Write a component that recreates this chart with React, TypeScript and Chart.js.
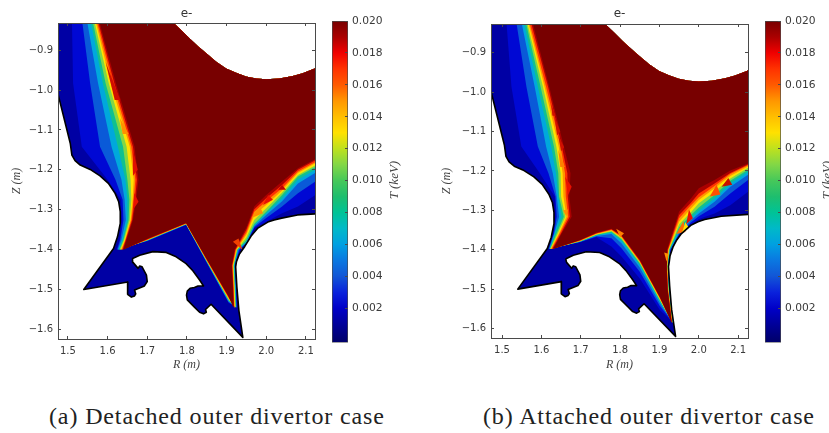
import React, { useEffect, useRef } from "react";
import { Chart, registerables } from "chart.js";

Chart.register(...registerables);

const TITLE = "e-";
const CAPTION_A = "(a) Detached outer divertor case";
const CAPTION_B = "(b) Attached outer divertor case";
const R_TICKS = [1.5, 1.6, 1.7, 1.8, 1.9, 2.0, 2.1];
const Z_TICKS = [-0.9, -1.0, -1.1, -1.2, -1.3, -1.4, -1.5, -1.6];
const CB_TICKS = [0.002, 0.004, 0.006, 0.008, 0.01, 0.012, 0.014, 0.016, 0.018, 0.02];

// Colour bar stops (keV -> colour)
const CB_VALUES = [0, 0.001, 0.002, 0.003, 0.004, 0.005, 0.006, 0.007, 0.008, 0.009, 0.01, 0.011, 0.012, 0.013, 0.014, 0.015, 0.016, 0.017, 0.018, 0.019, 0.02];
const CB_COLORS = ["#00006e", "#00009a", "#0000c8", "#0a22dc", "#1256d6", "#0a78e1", "#00a0e1", "#00b9c8", "#00c396", "#1ebe6e", "#46c85a", "#82d746", "#bee11e", "#ffe100", "#ffbe00", "#ff9600", "#ff5a00", "#ff3200", "#f00000", "#aa0000", "#780000"];

// Painted from the wall inward: base region, then T above each level, last the saturated core
const BASE_COLOR = "#0000a4";
const LEVEL_COLORS = ["#0008d4", "#0a5ad8", "#00a8dc", "#10c090", "#82d746", "#ffe100", "#ff9600", "#ff3200", "#aa0000", "#780000"];

// Wall shared by both panels (R, Z in metres), left side to the divertor bottom
const WALL_R = [1.47, 1.506, 1.51, 1.518, 1.531, 1.556, 1.581, 1.602, 1.619, 1.628, 1.632, 1.632, 1.625, 1.615, 1.54, 1.651, 1.65, 1.651, 1.66, 1.668, 1.671, 1.668, 1.693, 1.7, 1.698, 1.687, 1.681, 1.677, 1.664, 1.662, 1.664, 1.681, 1.714, 1.748, 1.773, 1.798, 1.815, 1.832, 1.842, 1.828, 1.819, 1.808, 1.801, 1.799, 1.801, 1.819, 1.832, 1.842, 1.849, 1.847, 1.861, 1.941, 1.931, 1.926, 1.923];
const WALL_Z = [-0.99, -1.134, -1.163, -1.177, -1.188, -1.199, -1.215, -1.234, -1.259, -1.28, -1.305, -1.334, -1.368, -1.397, -1.5, -1.481, -1.499, -1.512, -1.519, -1.516, -1.511, -1.501, -1.491, -1.48, -1.464, -1.443, -1.441, -1.447, -1.432, -1.424, -1.422, -1.414, -1.405, -1.407, -1.418, -1.435, -1.453, -1.476, -1.491, -1.491, -1.495, -1.497, -1.504, -1.514, -1.526, -1.544, -1.557, -1.561, -1.557, -1.55, -1.537, -1.62, -1.552, -1.493, -1.443];
const TAIL_A_R = [1.925, 1.932, 1.946, 1.962, 1.979, 2.004, 2.02, 2.039, 2.079, 2.13];
const TAIL_A_Z = [-1.43, -1.412, -1.392, -1.366, -1.346, -1.331, -1.326, -1.321, -1.313, -1.31];
const TAIL_B_R = [1.925, 1.927, 1.935, 1.944, 1.956, 1.981, 1.998, 2.015, 2.057, 2.13];
const TAIL_B_Z = [-1.43, -1.415, -1.392, -1.375, -1.359, -1.337, -1.329, -1.323, -1.315, -1.31];
const DOME_R = [2.13, 2.122, 2.092, 2.067, 2.033, 2.0, 1.975, 1.949, 1.924, 1.899, 1.874, 1.849, 1.828, 1.807, 1.786, 1.766, 1.755];
const DOME_Z = [-0.942, -0.946, -0.958, -0.965, -0.971, -0.973, -0.971, -0.966, -0.957, -0.946, -0.929, -0.908, -0.89, -0.871, -0.85, -0.831, -0.82];

// Panel (a): each row is one position, each column one level 0.002 ... 0.018, then the core edge
const A_LEFT_Z = [-0.82, -0.983, -1.142, -1.225, -1.275, -1.326, -1.376, -1.4];
const A_LEFT_R = [
  [1.51, 1.535, 1.547, 1.556, 1.561, 1.565, 1.568, 1.571, 1.574, 1.577],
  [1.513, 1.556, 1.576, 1.588, 1.595, 1.603, 1.608, 1.613, 1.617, 1.621],
  [1.535, 1.581, 1.61, 1.626, 1.639, 1.648, 1.656, 1.66, 1.664, 1.668],
  [1.6, 1.62, 1.635, 1.645, 1.65, 1.658, 1.666, 1.67, 1.674, 1.678],
  [1.634, 1.638, 1.643, 1.65, 1.655, 1.66, 1.663, 1.666, 1.669, 1.672],
  [1.636, 1.64, 1.646, 1.65, 1.653, 1.656, 1.658, 1.66, 1.662, 1.664],
  [1.63, 1.632, 1.635, 1.638, 1.64, 1.642, 1.644, 1.645, 1.646, 1.648],
  [1.622, 1.624, 1.626, 1.628, 1.63, 1.632, 1.634, 1.636, 1.638, 1.64],
];
const A_LOWER_R = [1.7, 1.798, 1.85, 1.905];
const A_LOWER_Z = [
  [-1.379, -1.378, -1.3775, -1.377, -1.3765, -1.376, -1.3755, -1.375, -1.374, -1.373],
  [-1.338, -1.3375, -1.337, -1.3365, -1.336, -1.3355, -1.335, -1.3345, -1.334, -1.333],
  [-1.433, -1.432, -1.431, -1.43, -1.429, -1.428, -1.427, -1.426, -1.425, -1.4235],
  [-1.534, -1.532, -1.53, -1.528, -1.526, -1.524, -1.522, -1.52, -1.518, -1.516],
];
const A_TIP_Z = [-1.545, -1.5, -1.44, -1.4];
const A_TIP_R = [
  [1.927, 1.926, 1.925, 1.924, 1.923, 1.922, 1.921, 1.92, 1.919, 1.917],
  [1.925, 1.924, 1.923, 1.922, 1.921, 1.92, 1.919, 1.918, 1.917, 1.916],
  [1.922, 1.921, 1.92, 1.919, 1.918, 1.917, 1.916, 1.915, 1.914, 1.913],
  [1.934, 1.932, 1.93, 1.928, 1.927, 1.926, 1.925, 1.923, 1.922, 1.92],
];
const A_RIGHT_R = [1.95, 1.97, 2.0, 2.04, 2.08, 2.13];
const A_RIGHT_Z = [
  [-1.386, -1.384, -1.382, -1.38, -1.376, -1.369, -1.363, -1.357, -1.35, -1.344],
  [-1.346, -1.344, -1.341, -1.339, -1.335, -1.325, -1.313, -1.305, -1.299, -1.292],
  [-1.33, -1.321, -1.313, -1.309, -1.305, -1.296, -1.288, -1.279, -1.271, -1.263],
  [-1.309, -1.292, -1.279, -1.271, -1.263, -1.257, -1.252, -1.246, -1.238, -1.229],
  [-1.292, -1.259, -1.234, -1.225, -1.217, -1.213, -1.208, -1.204, -1.2, -1.196],
  [-1.259, -1.225, -1.204, -1.196, -1.19, -1.185, -1.18, -1.177, -1.173, -1.17],
];
// Faceted mesh cells that stick out of the contours: R1, Z1, R2, Z2, R3, Z3
const A_CELLS = [
  [1.595, -0.93, 1.632, -1.025, 1.618, -1.025],
  [1.631, -1.07, 1.653, -1.11, 1.638, -1.11],
  [1.664, -1.15, 1.676, -1.2, 1.664, -1.215],
  [1.667, -1.258, 1.678, -1.28, 1.664, -1.3],
  [1.992, -1.288, 2.005, -1.263, 2.017, -1.275],
  [2.03, -1.25, 2.04, -1.238, 2.05, -1.25],
  [1.963, -1.321, 1.984, -1.292, 1.992, -1.309],
  [1.916, -1.38, 1.93, -1.372, 1.94, -1.4],
];
const A_CELL_COLORS = ["#d01000", "#ff9000", "#e01000", "#e81000", "#e81000", "#c00000", "#ff9000", "#f04000"];

// Panel (b)
const B_LEFT_Z = [-0.82, -0.986, -1.138, -1.206, -1.265, -1.316, -1.358, -1.398];
const B_LEFT_R = [
  [1.511, 1.536, 1.549, 1.555, 1.56, 1.563, 1.566, 1.569, 1.573, 1.577],
  [1.524, 1.562, 1.583, 1.591, 1.598, 1.604, 1.608, 1.612, 1.617, 1.62],
  [1.549, 1.591, 1.612, 1.625, 1.632, 1.638, 1.644, 1.649, 1.652, 1.657],
  [1.596, 1.618, 1.629, 1.637, 1.643, 1.649, 1.654, 1.66, 1.666, 1.674],
  [1.634, 1.636, 1.639, 1.643, 1.645, 1.65, 1.656, 1.662, 1.667, 1.671],
  [1.636, 1.639, 1.645, 1.651, 1.657, 1.661, 1.664, 1.668, 1.672, 1.677],
  [1.63, 1.632, 1.633, 1.635, 1.639, 1.642, 1.645, 1.647, 1.65, 1.652],
  [1.618, 1.619, 1.62, 1.621, 1.622, 1.623, 1.624, 1.626, 1.628, 1.63],
];
const B_LOWER_R = [1.698, 1.74, 1.778, 1.804, 1.85, 1.901];
const B_LOWER_Z = [
  [-1.381, -1.3805, -1.38, -1.3795, -1.379, -1.378, -1.3775, -1.377, -1.376, -1.375],
  [-1.368, -1.3665, -1.365, -1.3635, -1.362, -1.361, -1.36, -1.359, -1.358, -1.356],
  [-1.392, -1.371, -1.36, -1.357, -1.354, -1.3525, -1.351, -1.349, -1.348, -1.347],
  [-1.418, -1.397, -1.384, -1.377, -1.374, -1.371, -1.369, -1.367, -1.365, -1.363],
  [-1.473, -1.456, -1.445, -1.439, -1.435, -1.432, -1.43, -1.429, -1.427, -1.425],
  [-1.553, -1.543, -1.536, -1.532, -1.528, -1.526, -1.524, -1.522, -1.521, -1.519],
];
const B_TIP_Z = [-1.585, -1.5, -1.44, -1.4];
const B_TIP_R = [
  [1.9355, 1.935, 1.9345, 1.934, 1.9335, 1.933, 1.9325, 1.932, 1.9315, 1.931],
  [1.925, 1.9245, 1.924, 1.9235, 1.923, 1.9225, 1.922, 1.9215, 1.921, 1.9205],
  [1.9225, 1.922, 1.9215, 1.921, 1.9205, 1.92, 1.9195, 1.919, 1.9185, 1.918],
  [1.929, 1.928, 1.927, 1.926, 1.925, 1.924, 1.923, 1.922, 1.921, 1.919],
];
const B_RIGHT_R = [1.95, 1.98, 2.0, 2.04, 2.08, 2.13];
const B_RIGHT_Z = [
  [-1.365, -1.36, -1.357, -1.35, -1.343, -1.335, -1.329, -1.32, -1.312, -1.303],
  [-1.337, -1.331, -1.325, -1.32, -1.312, -1.305, -1.295, -1.287, -1.281, -1.27],
  [-1.322, -1.315, -1.308, -1.301, -1.293, -1.282, -1.274, -1.267, -1.257, -1.244],
  [-1.308, -1.291, -1.278, -1.27, -1.261, -1.253, -1.244, -1.238, -1.232, -1.223],
  [-1.287, -1.257, -1.24, -1.232, -1.225, -1.219, -1.213, -1.208, -1.205, -1.199],
  [-1.249, -1.219, -1.206, -1.199, -1.194, -1.189, -1.186, -1.183, -1.181, -1.179],
];
const B_CELLS = [
  [1.66, -1.215, 1.677, -1.24, 1.668, -1.261],
  [1.655, -1.3, 1.668, -1.298, 1.663, -1.315],
  [1.643, -1.147, 1.66, -1.19, 1.648, -1.19],
  [1.625, -1.03, 1.636, -1.06, 1.628, -1.06],
  [1.633, -1.06, 1.648, -1.1, 1.64, -1.11],
  [1.643, -1.11, 1.658, -1.14, 1.65, -1.15],
  [1.79, -1.347, 1.81, -1.358, 1.8, -1.368],
  [1.912, -1.407, 1.923, -1.41, 1.918, -1.43],
  [1.943, -1.36, 1.961, -1.327, 1.966, -1.355],
  [1.956, -1.36, 1.966, -1.33, 1.975, -1.345],
  [1.968, -1.335, 1.975, -1.298, 1.985, -1.32],
  [2.028, -1.265, 2.045, -1.235, 2.055, -1.26],
  [2.058, -1.24, 2.075, -1.218, 2.085, -1.235],
];
const B_CELL_COLORS = ["#e81000", "#ff9000", "#ff8000", "#d01000", "#d01000", "#d01000", "#ff8000", "#ff9000", "#ff6a00", "#ffe100", "#e81000", "#ff5000", "#c81000"];

const PANEL_A = {
  leftZ: A_LEFT_Z, leftR: A_LEFT_R, lowerR: A_LOWER_R, lowerZ: A_LOWER_Z,
  tipZ: A_TIP_Z, tipR: A_TIP_R, rightR: A_RIGHT_R, rightZ: A_RIGHT_Z,
  tailR: TAIL_A_R, tailZ: TAIL_A_Z, cells: A_CELLS, cellColors: A_CELL_COLORS,
};
const PANEL_B = {
  leftZ: B_LEFT_Z, leftR: B_LEFT_R, lowerR: B_LOWER_R, lowerZ: B_LOWER_Z,
  tipZ: B_TIP_Z, tipR: B_TIP_R, rightR: B_RIGHT_R, rightZ: B_RIGHT_Z,
  tailR: TAIL_B_R, tailZ: TAIL_B_Z, cells: B_CELLS, cellColors: B_CELL_COLORS,
};

const pts = (rs: number[], zs: number[]) => rs.map((x, i) => ({ x, y: zs[i] }));

function buildDatasets(p: typeof PANEL_A) {
  const wall = [...pts(WALL_R, WALL_Z), ...pts(p.tailR, p.tailZ)];
  const dome = pts(DOME_R, DOME_Z);
  const fillDs = (data: any[], color: string) => ({
    data, showLine: true, fill: "shape", backgroundColor: color, borderColor: color,
    borderWidth: 0, pointRadius: 0, tension: 0,
  });
  const ds: any[] = [fillDs([{ x: 1.47, y: -0.82 }, ...wall, ...dome], BASE_COLOR)];
  LEVEL_COLORS.forEach((color, i) => {
    const data = [
      ...p.leftZ.map((z, r) => ({ x: p.leftR[r][i], y: z })),
      ...p.lowerR.map((R, r) => ({ x: R, y: p.lowerZ[r][i] })),
      ...p.tipZ.map((z, r) => ({ x: p.tipR[r][i], y: z })),
      ...p.rightR.map((R, r) => ({ x: R, y: p.rightZ[r][i] })),
      ...dome,
    ];
    ds.push(fillDs(data, color));
  });
  p.cells.forEach((c, i) => {
    ds.push(fillDs([{ x: c[0], y: c[1] }, { x: c[2], y: c[3] }, { x: c[4], y: c[5] }], p.cellColors[i]));
  });
  ds.push({
    data: wall, showLine: true, fill: false, borderColor: "#000000", borderWidth: 1.6,
    pointRadius: 0, tension: 0, borderJoinStyle: "round",
  });
  return ds.map((d, i) => ({ ...d, order: ds.length - i }));
}

const TICK_FONT = { family: "'DejaVu Sans'", size: 10 };
const TICK_COLOR = "#3a3a3a";
const FRAME = "#4a4a4a";
const fmtMinus = (v: number, dp: number) => (v < 0 ? "\u2212" : "") + Math.abs(v).toFixed(dp);

function edgeAxis(position: string, axis: "x" | "y", min: number, max: number, ticks: number[]) {
  return {
    type: "linear", position, axis, min, max,
    grid: { drawOnChartArea: false, drawTicks: true, tickLength: -3, color: FRAME, z: 1 },
    border: { display: true, color: FRAME, width: 1, z: 1 },
    ticks: { display: false },
    afterBuildTicks: (s: any) => { s.ticks = ticks.map((value) => ({ value })); },
  };
}

function panelConfig(p: typeof PANEL_A, lim: any, plotLeft: number, padRight: number, top: number, canvasH: number, plotBottom: number) {
  return {
    type: "scatter",
    data: { datasets: buildDatasets(p) },
    options: {
      animation: false, responsive: false, maintainAspectRatio: false,
      layout: { padding: { left: 0, right: padRight, top: 0, bottom: 0 } },
      plugins: { legend: { display: false }, tooltip: { enabled: false } },
      elements: { line: { tension: 0 } },
      scales: {
        x: {
          ...edgeAxis("bottom", "x", lim.xMin, lim.xMax, R_TICKS),
          ticks: { display: true, font: TICK_FONT, color: TICK_COLOR, padding: 9, maxRotation: 0, autoSkip: false, callback: (v: number) => v.toFixed(1) },
          title: { display: true, text: "R (m)", color: "#444", font: { family: "'Liberation Serif'", style: "italic", size: 12 }, padding: { top: 0, bottom: 3 } },
          afterFit: (s: any) => { s.height = canvasH - plotBottom; },
        },
        xTop: {
          ...edgeAxis("top", "x", lim.xMin, lim.xMax, R_TICKS),
          title: { display: true, text: TITLE, color: "#333", font: { family: "'DejaVu Sans'", size: 12 }, padding: { top: 7, bottom: 0 } },
          afterFit: (s: any) => { s.height = top; },
        },
        y: {
          ...edgeAxis("left", "y", lim.yMin, lim.yMax, Z_TICKS),
          ticks: { display: true, font: TICK_FONT, color: TICK_COLOR, padding: 8, autoSkip: false, callback: (v: number) => fmtMinus(v, 1) },
          title: { display: true, text: "Z (m)", color: "#444", font: { family: "'Liberation Serif'", style: "italic", size: 12 }, padding: { top: 10, bottom: 0 } },
          afterFit: (s: any) => { s.width = plotLeft; },
        },
        yRight: {
          ...edgeAxis("right", "y", lim.yMin, lim.yMax, Z_TICKS),
          afterFit: (s: any) => { s.width = 0; },
        },
      },
    },
  };
}

const CB_MIN = -0.00015;
const CB_MAX = 0.02;

function colorbarConfig(axisWidth: number) {
  return {
    type: "bar",
    data: {
      labels: [""],
      datasets: [{
        data: [[CB_MIN, CB_MAX]], barPercentage: 1, categoryPercentage: 1,
        borderColor: FRAME, borderWidth: 1, borderSkipped: false,
        backgroundColor: (ctx: any) => {
          const { chart } = ctx;
          if (!chart.chartArea) return CB_COLORS[0];
          const sy = chart.scales.y;
          const g = chart.ctx.createLinearGradient(0, sy.getPixelForValue(CB_MIN), 0, sy.getPixelForValue(CB_MAX));
          CB_VALUES.forEach((v, i) => g.addColorStop(Math.max(0, (v - CB_MIN) / (CB_MAX - CB_MIN)), CB_COLORS[i]));
          return g;
        },
      }],
    },
    options: {
      animation: false, responsive: false, maintainAspectRatio: false,
      layout: { padding: { left: 7, right: 0, top: 21, bottom: 9 } },
      plugins: { legend: { display: false }, tooltip: { enabled: false } },
      scales: {
        x: { display: false, grid: { display: false } },
        y: {
          position: "right", min: CB_MIN, max: CB_MAX,
          grid: { drawOnChartArea: false, drawTicks: true, tickLength: -3, color: FRAME, z: 1 },
          border: { display: false },
          ticks: { font: { family: "'DejaVu Sans'", size: 10.7 }, color: TICK_COLOR, padding: 7, autoSkip: false, callback: (v: number) => v.toFixed(3) },
          afterBuildTicks: (s: any) => { s.ticks = CB_TICKS.map((value) => ({ value })); },
          afterFit: (s: any) => { s.width = axisWidth; },
        },
      },
    },
  };
}

const LIM_A = { xMin: 1.475, xMax: 2.123, yMin: -1.624, yMax: -0.832 };
const LIM_B = { xMin: 1.472, xMax: 2.125, yMin: -1.624, yMax: -0.827 };

function ChartCanvas({ left, width, height, make }: { left: number; width: number; height: number; make: () => any }) {
  const ref = useRef<HTMLCanvasElement>(null);
  useEffect(() => {
    const c = new Chart(ref.current as any, make());
    return () => c.destroy();
  }, []);
  return (
    <canvas ref={ref} width={width} height={height}
      style={{ position: "absolute", left, top: 0, width, height, filter: "blur(0.6px)" }} />
  );
}

const captionStyle: React.CSSProperties = {
  position: "absolute", top: 403, whiteSpace: "nowrap", color: "#222",
  fontFamily: "'Liberation Serif'", fontSize: 24, letterSpacing: 0.875, lineHeight: "26px",
};
const cbLabel: React.CSSProperties = {
  position: "absolute", top: 173, width: 50, textAlign: "center", whiteSpace: "nowrap", color: "#444",
  fontFamily: "'Liberation Serif'", fontStyle: "italic", fontSize: 13, lineHeight: "14px",
  transform: "rotate(-90deg)", filter: "blur(0.4px)",
};

export default function App() {
  return (
    <div style={{ position: "absolute", left: 0, top: 0, width: 829, height: 433, overflow: "hidden", background: "#fff" }}>
      <ChartCanvas left={0} width={372} height={375} make={() => panelConfig(PANEL_A, LIM_A, 58, 57, 23, 375, 339)} />
      <ChartCanvas left={430} width={380} height={375} make={() => panelConfig(PANEL_B, LIM_B, 61, 62, 24, 375, 338)} />
      <ChartCanvas left={325} width={90} height={356} make={() => colorbarConfig(67)} />
      <ChartCanvas left={758} width={71} height={356} make={() => colorbarConfig(48)} />
      <div style={{ ...cbLabel, left: 369 }}>T (keV)</div>
      <div style={{ ...cbLabel, left: 802 }}>T (keV)</div>
      <div style={{ ...captionStyle, left: 49 }}>{CAPTION_A}</div>
      <div style={{ ...captionStyle, left: 483 }}>{CAPTION_B}</div>
    </div>
  );
}
